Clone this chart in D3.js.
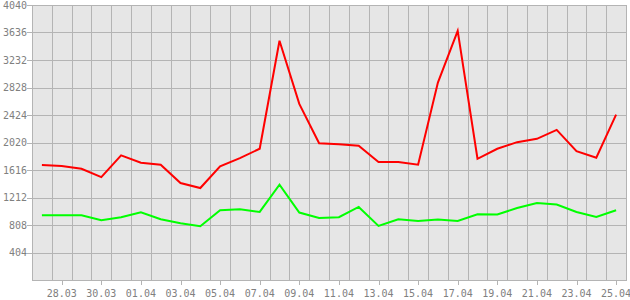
<!DOCTYPE html>
<html>
<head>
<meta charset="utf-8">
<script src="https://cdn.jsdelivr.net/npm/d3@7"></script>
<style>
  body { margin: 0; background: #fff; }
  text { font-family: "DejaVu Sans Mono", monospace; font-size: 10px; fill: #808080; }
</style>
</head>
<body>
<div id="chart"></div>
<script>
// dates shown on the x axis (one per day)
const dates = ["27.03", "28.03", "29.03", "30.03", "31.03", "01.04", "02.04", "03.04", "04.04", "05.04",
  "06.04", "07.04", "08.04", "09.04", "10.04", "11.04", "12.04", "13.04", "14.04", "15.04",
  "16.04", "17.04", "18.04", "19.04", "20.04", "21.04", "22.04", "23.04", "24.04", "25.04"];

// red series
const redValues = [1688, 1673, 1635, 1512, 1830, 1723, 1694, 1424, 1351, 1669,
  1790, 1928, 3514, 2587, 2010, 1995, 1972, 1732, 1732, 1694,
  2900, 3660, 1781, 1928, 2025, 2074, 2206, 1893, 1796, 2430];

// green series
const greenValues = [951, 951, 951, 878, 922, 995, 893, 834, 790, 1025,
  1039, 1000, 1401, 991, 912, 922, 1073, 795, 893, 868,
  888, 868, 966, 962, 1058, 1132, 1108, 1000, 927, 1025];

const yTicks = [404, 808, 1212, 1616, 2020, 2424, 2828, 3232, 3636, 4040];

const width = 630;
const height = 300;
const plotLeft = 32, plotRight = 626, plotTop = 5, plotBottom = 280;

const svg = d3.select("#chart").append("svg").attr("width", width).attr("height", height);

const x = d3.scaleBand().domain(dates).range([plotLeft, plotRight]).padding(0);
const y = d3.scaleLinear().domain([0, 4040]).range([plotBottom, plotTop]);
const cx = (d) => x(d) + x.bandwidth() / 2;
const px = (v) => Math.round(v) + 0.5;

// Plot background
svg.append("rect")
  .attr("x", plotLeft).attr("y", plotTop)
  .attr("width", plotRight - plotLeft).attr("height", plotBottom - plotTop)
  .attr("fill", "#e6e6e6");

const grid = svg.append("g").attr("stroke", "#b4b4b4").attr("stroke-width", 1).attr("shape-rendering", "crispEdges");

// vertical gridlines at band boundaries
grid.selectAll(".vgrid")
  .data(dates.slice(1))
  .enter().append("line")
  .attr("x1", (d) => px(x(d))).attr("x2", (d) => px(x(d)))
  .attr("y1", plotTop).attr("y2", plotBottom);

// horizontal gridlines
grid.selectAll(".hgrid")
  .data(yTicks)
  .enter().append("line")
  .attr("x1", plotLeft).attr("x2", plotRight)
  .attr("y1", (d) => px(y(d))).attr("y2", (d) => px(y(d)));

// frame
grid.append("rect")
  .attr("x", px(plotLeft)).attr("y", px(plotTop))
  .attr("width", plotRight - plotLeft).attr("height", plotBottom - plotTop)
  .attr("fill", "none");

// y axis ticks and labels
grid.selectAll(".ytick")
  .data(yTicks)
  .enter().append("line")
  .attr("x1", plotLeft - 5).attr("x2", plotLeft)
  .attr("y1", (d) => px(y(d))).attr("y2", (d) => px(y(d)));

svg.selectAll(".ylabel")
  .data(yTicks)
  .enter().append("text")
  .attr("x", plotLeft - 5)
  .attr("y", (d) => y(d) + 3.5)
  .attr("text-anchor", "end")
  .text((d) => d);

// x axis ticks and labels, every second day
const xLabels = dates.filter((d, i) => i % 2 === 1);

grid.selectAll(".xtick")
  .data(xLabels)
  .enter().append("line")
  .attr("x1", (d) => px(cx(d))).attr("x2", (d) => px(cx(d)))
  .attr("y1", plotBottom).attr("y2", plotBottom + 5);

svg.selectAll(".xlabel")
  .data(xLabels)
  .enter().append("text")
  .attr("x", (d) => cx(d))
  .attr("y", plotBottom + 17)
  .attr("text-anchor", "middle")
  .text((d) => d);

// Lines
const line = d3.line()
  .x((d, i) => cx(dates[i]))
  .y((d) => y(d));

svg.append("path")
  .datum(greenValues)
  .attr("d", line)
  .attr("fill", "none")
  .attr("stroke", "#00ff00")
  .attr("stroke-width", 2);

svg.append("path")
  .datum(redValues)
  .attr("d", line)
  .attr("fill", "none")
  .attr("stroke", "#ff0000")
  .attr("stroke-width", 2);
</script>
</body>
</html>
